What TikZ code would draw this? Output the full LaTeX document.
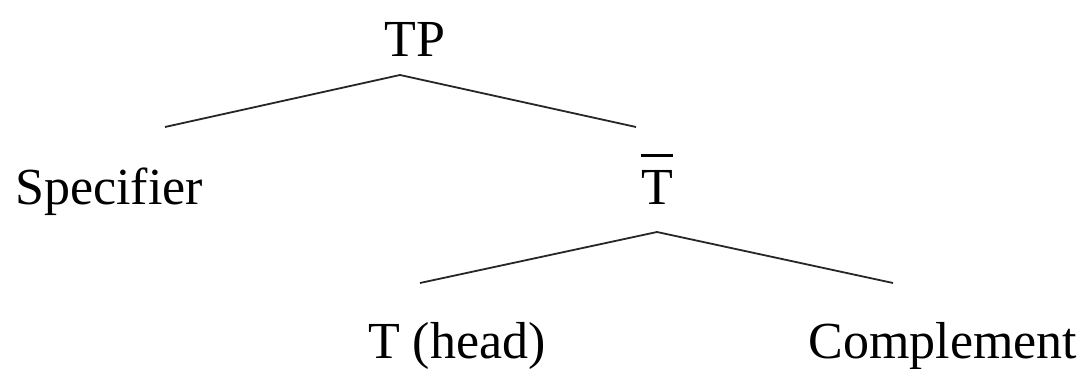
\documentclass[tikz,border=0pt]{standalone}
\usepackage{fontspec}
\setmainfont{Liberation Serif}
\usepackage{tikz}
\usetikzlibrary{positioning,calc}
\tikzstyle{label}=[inner sep=0pt, anchor=base, font=\fontsize{52}{60}\selectfont]
\tikzstyle{branch}=[draw, line width=1.8pt, black!85]

\begin{document}
\begin{tikzpicture}[x=1pt,y=1pt]
        \useasboundingbox (0,0) rectangle (1090,369);
        % labels
        \node[label] (tp) at (415,312) {TP};
        \node[label] (spec) at (109,164) {Specifier};
        \node[label] (tbar) at (657,164) {T};
        \node[label] (head) at (457,10) {T (head)};
        \node[label] (comp) at (943,10) {Complement};
        % bar over T
        \draw[line width=2.6pt] ([yshift=15pt]tbar.north west) -- ([yshift=15pt]tbar.north east);
        % branch ends
        \coordinate (tp-top) at (400,294);
        \coordinate (spec-end) at (165,242);
        \coordinate (tbar-end) at (636,242);
        \coordinate (tbar-top) at (657,137);
        \coordinate (head-end) at (420,86);
        \coordinate (comp-end) at (893,86);
        \draw[branch] (spec-end) -- (tp-top) -- (tbar-end);
        \draw[branch] (head-end) -- (tbar-top) -- (comp-end);
      \end{tikzpicture}
\end{document}
